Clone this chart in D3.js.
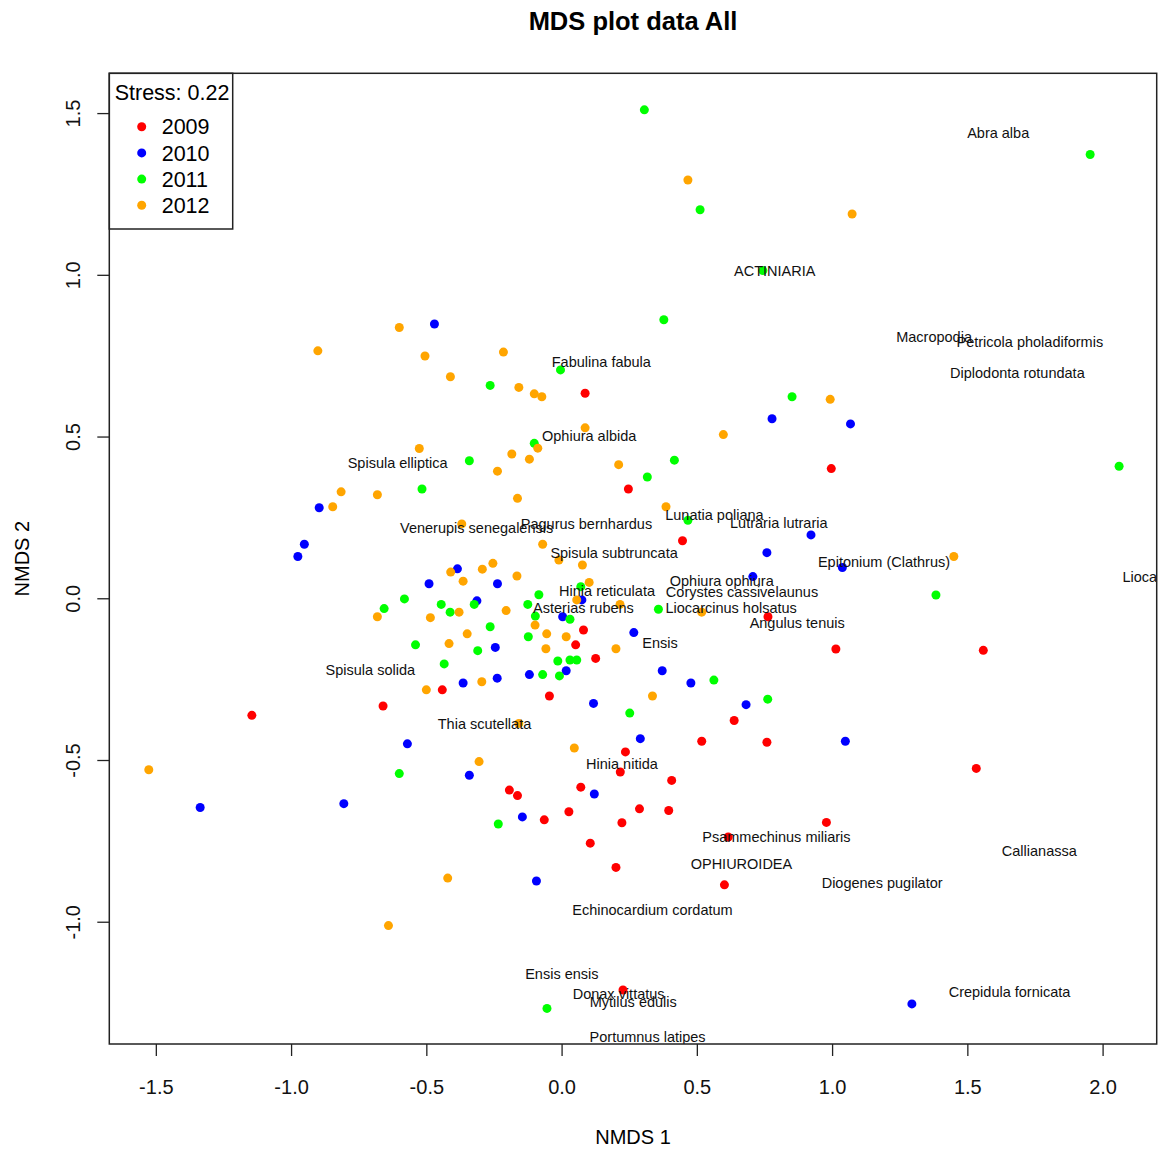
<!DOCTYPE html>
<html>
<head>
<meta charset="utf-8">
<script src="https://cdn.jsdelivr.net/npm/d3@7"></script>
<style>
  body { margin: 0; background: #fff; }
  svg { display: block; font-family: "Liberation Sans", Arial, sans-serif; }
</style>
</head>
<body>
<svg id="chart" width="1162" height="1149"></svg>
<script>
// site scores per year [NMDS1, NMDS2]
var sites2009 = [
  [0.087,0.634],[0.247,0.338],[0.997,0.401],[0.447,0.178],[0.763,-0.057],[0.081,-0.098],
  [0.052,-0.144],[0.126,-0.186],[1.014,-0.157],[1.559,-0.161],[-0.441,-0.283],[-0.660,-0.333],
  [-1.145,-0.362],[-0.045,-0.302],[0.638,-0.378],[0.518,-0.442],[0.759,-0.445],[0.236,-0.475],
  [0.217,-0.537],[0.407,-0.563],[-0.193,-0.593],[-0.163,-0.610],[0.071,-0.584],[0.288,-0.651],
  [0.396,-0.656],[0.027,-0.660],[-0.064,-0.685],[0.223,-0.694],[0.979,-0.693],[0.616,-0.738],
  [0.106,-0.757],[0.201,-0.832],[0.602,-0.886],[0.227,-1.211],[1.533,-0.526]
];
var sites2010 = [
  [-0.470,0.848],[0.778,0.555],[1.068,0.539],[0.922,0.196],[0.759,0.141],[0.707,0.067],
  [1.038,0.095],[-0.896,0.280],[-0.951,0.167],[-0.975,0.129],[-0.385,0.091],[-0.490,0.045],
  [-0.237,0.045],[-0.313,-0.008],[0.075,-0.005],[0.004,-0.057],[-0.245,-0.152],[0.267,-0.106],
  [-0.238,-0.247],[-0.119,-0.236],[0.017,-0.224],[0.372,-0.224],[0.478,-0.262],[-0.364,-0.262],
  [0.118,-0.325],[0.682,-0.329],[-0.570,-0.450],[0.291,-0.434],[1.049,-0.442],[-0.341,-0.547],
  [0.121,-0.605],[-0.145,-0.676],[-0.093,-0.874],[-0.805,-0.635],[-1.336,-0.647],[1.295,-1.254]
];
var sites2011 = [
  [0.306,1.510],[0.512,1.201],[1.954,1.372],[0.744,1.013],[0.378,0.861],[-0.004,0.706],
  [-0.264,0.658],[0.852,0.623],[-0.101,0.479],[-0.341,0.425],[0.417,0.427],[0.317,0.375],
  [-0.516,0.338],[2.061,0.408],[0.467,0.241],[1.384,0.010],[0.071,0.036],[-0.084,0.011],
  [-0.125,-0.019],[-0.097,-0.055],[0.031,-0.065],[0.358,-0.034],[-0.581,-0.002],[-0.323,-0.019],
  [-0.445,-0.019],[-0.656,-0.032],[-0.412,-0.043],[-0.264,-0.088],[-0.540,-0.144],[-0.310,-0.162],
  [-0.123,-0.119],[-0.434,-0.203],[-0.014,-0.194],[0.031,-0.191],[0.056,-0.191],[-0.070,-0.236],
  [-0.008,-0.240],[0.563,-0.253],[0.762,-0.312],[0.252,-0.355],[-0.600,-0.542],[-0.234,-0.698],
  [-0.054,-1.268]
];
var sites2012 = [
  [0.467,1.293],[1.074,1.188],[-0.600,0.837],[-0.901,0.765],[-0.505,0.749],[-0.215,0.761],
  [-0.411,0.685],[-0.158,0.652],[-0.101,0.632],[-0.073,0.623],[0.993,0.615],[0.087,0.527],
  [0.598,0.506],[-0.526,0.463],[-0.088,0.464],[-0.184,0.446],[-0.119,0.430],[0.211,0.413],
  [-0.237,0.393],[-0.815,0.329],[-0.681,0.320],[-0.846,0.283],[-0.163,0.309],[0.386,0.283],
  [-0.369,0.230],[-0.070,0.167],[-0.010,0.118],[0.077,0.103],[-0.254,0.108],[-0.293,0.090],
  [-0.410,0.081],[-0.364,0.053],[-0.165,0.069],[1.450,0.129],[0.102,0.049],[0.056,-0.005],
  [-0.205,-0.038],[-0.379,-0.043],[-0.681,-0.057],[-0.485,-0.060],[0.216,-0.019],[0.518,-0.043],
  [-0.098,-0.083],[-0.349,-0.110],[-0.055,-0.110],[0.017,-0.119],[-0.416,-0.140],[-0.058,-0.156],
  [0.201,-0.156],[-0.295,-0.258],[-0.500,-0.283],[0.336,-0.302],[-0.158,-0.387],[0.047,-0.463],
  [-0.305,-0.505],[-1.526,-0.530],[-0.421,-0.865],[-0.640,-1.012]
];

var years = ["2009", "2010", "2011", "2012"];
var yearColors = ["#ff0000", "#0000ff", "#00ff00", "#ffa500"];

// species scores
var species = ["Abra alba","ACTINIARIA","Macropodia","Petricola pholadiformis","Diplodonta rotundata",
  "Fabulina fabula","Ophiura albida","Spisula elliptica","Venerupis senegalensis","Pagurus bernhardus",
  "Lunatia poliana","Lutraria lutraria","Spisula subtruncata","Epitonium (Clathrus)","Liocarcinus depurator",
  "Ophiura ophiura","Hinia reticulata","Corystes cassivelaunus","Asterias rubens","Liocarcinus holsatus",
  "Angulus tenuis","Ensis","Spisula solida","Thia scutellata","Hinia nitida","Psammechinus miliaris",
  "OPHIUROIDEA","Diogenes pugilator","Callianassa","Echinocardium cordatum","Ensis ensis",
  "Donax vittatus","Mytilus edulis","Crepidula fornicata","Portumnus latipes"];
var speciesX = [1.614,0.788,1.377,1.731,1.685,0.147,0.102,-0.606,-0.314,0.092,
  0.565,0.803,0.194,1.192,2.331,0.592,0.168,0.667,0.081,0.627,
  0.871,0.364,-0.707,-0.285,0.223,0.794,0.665,1.185,1.766,0.336,0.001,
  0.211,0.265,1.656,0.318];
var speciesY = [1.439,1.013,0.807,0.793,0.696,0.732,0.502,0.417,0.217,0.230,
  0.258,0.232,0.141,0.112,0.065,0.053,0.024,0.020,-0.031,-0.031,
  -0.077,-0.139,-0.220,-0.389,-0.512,-0.738,-0.822,-0.880,-0.780,-0.962,-1.162,
  -1.224,-1.249,-1.217,-1.357];

var xTicks = [-1.5, -1.0, -0.5, 0.0, 0.5, 1.0, 1.5, 2.0];
var yTicks = [-1.0, -0.5, 0.0, 0.5, 1.0, 1.5];

var svg = d3.select("#chart");
var pLeft = 109.3, pRight = 1156.7, pTop = 73.3, pBottom = 1044;

var x = d3.scaleLinear().domain([-1.672, 2.200]).range([pLeft, pRight]);
var y = d3.scaleLinear().domain([-1.378, 1.623]).range([pBottom, pTop]);

svg.append("defs").append("clipPath").attr("id", "plotclip")
  .append("rect").attr("x", pLeft).attr("y", pTop)
  .attr("width", pRight - pLeft).attr("height", pBottom - pTop);

// title
svg.append("text")
  .attr("x", (pLeft + pRight) / 2).attr("y", 30)
  .attr("text-anchor", "middle")
  .style("font-size", "25.5px").style("font-weight", "bold")
  .text("MDS plot data All");

// axes
var xAxis = svg.append("g")
  .attr("transform", "translate(0," + pBottom + ")")
  .call(d3.axisBottom(x).tickValues(xTicks).tickSize(12).tickPadding(24)
    .tickFormat(function (d) { return d.toFixed(1); }));
xAxis.select(".domain").remove();
xAxis.selectAll("line").attr("stroke", "#222").attr("stroke-width", 1.3);
xAxis.selectAll("text").style("font-size", "20px").attr("fill", "#111")
  .style("font-family", "'Liberation Sans', Arial, sans-serif");

var yAxis = svg.append("g")
  .attr("transform", "translate(" + pLeft + ",0)")
  .call(d3.axisLeft(y).tickValues(yTicks).tickSize(12)
    .tickFormat(function (d) { return d.toFixed(1); }));
yAxis.select(".domain").remove();
yAxis.selectAll("line").attr("stroke", "#222").attr("stroke-width", 1.3);
yAxis.selectAll("text")
  .attr("x", 0).attr("y", 0).attr("dy", "0.35em")
  .attr("text-anchor", "middle")
  .attr("transform", "translate(-36.5,0) rotate(-90)")
  .style("font-size", "20px").attr("fill", "#111")
  .style("font-family", "'Liberation Sans', Arial, sans-serif");

svg.append("text")
  .attr("x", (pLeft + pRight) / 2).attr("y", 1144)
  .attr("text-anchor", "middle").style("font-size", "20px")
  .text("NMDS 1");

svg.append("text")
  .attr("transform", "translate(29," + ((pTop + pBottom) / 2) + ") rotate(-90)")
  .attr("text-anchor", "middle").style("font-size", "20px")
  .text("NMDS 2");

// points
var plot = svg.append("g").attr("clip-path", "url(#plotclip)");
var allSites = [sites2009, sites2010, sites2011, sites2012];
allSites.forEach(function (arr, i) {
  plot.append("g").selectAll("circle")
    .data(arr)
    .enter().append("circle")
    .attr("cx", function (d) { return x(d[0]); })
    .attr("cy", function (d) { return y(d[1]); })
    .attr("r", 4.5)
    .attr("fill", yearColors[i]);
});

// species labels
plot.append("g").selectAll("text")
  .data(species)
  .enter().append("text")
  .attr("x", function (d, i) { return x(speciesX[i]); })
  .attr("y", function (d, i) { return y(speciesY[i]); })
  .attr("dy", "0.35em")
  .attr("text-anchor", "middle")
  .style("font-size", "14.5px")
  .attr("fill", "#111")
  .text(function (d) { return d; });

// legend
var legend = svg.append("g");
legend.append("text")
  .attr("x", 114.7).attr("y", 100)
  .style("font-size", "21.5px")
  .text("Stress: 0.22");
var rows = legend.selectAll("g.row")
  .data(years)
  .enter().append("g").attr("class", "row")
  .attr("transform", function (d, i) { return "translate(0," + (126.7 + i * 26.2) + ")"; });
rows.append("circle").attr("cx", 141.7).attr("cy", 0).attr("r", 4.5)
  .attr("fill", function (d, i) { return yearColors[i]; });
rows.append("text").attr("x", 161.7).attr("y", 0).attr("dy", "0.36em")
  .style("font-size", "21.5px")
  .text(function (d) { return d; });

legend.append("rect")
  .attr("x", pLeft).attr("y", pTop).attr("width", 123.4).attr("height", 155.7)
  .attr("fill", "none").attr("stroke", "#222").attr("stroke-width", 1.5);

// plot box
svg.append("rect")
  .attr("x", pLeft).attr("y", pTop)
  .attr("width", pRight - pLeft).attr("height", pBottom - pTop)
  .attr("fill", "none").attr("stroke", "#222").attr("stroke-width", 1.5);
</script>
</body>
</html>
